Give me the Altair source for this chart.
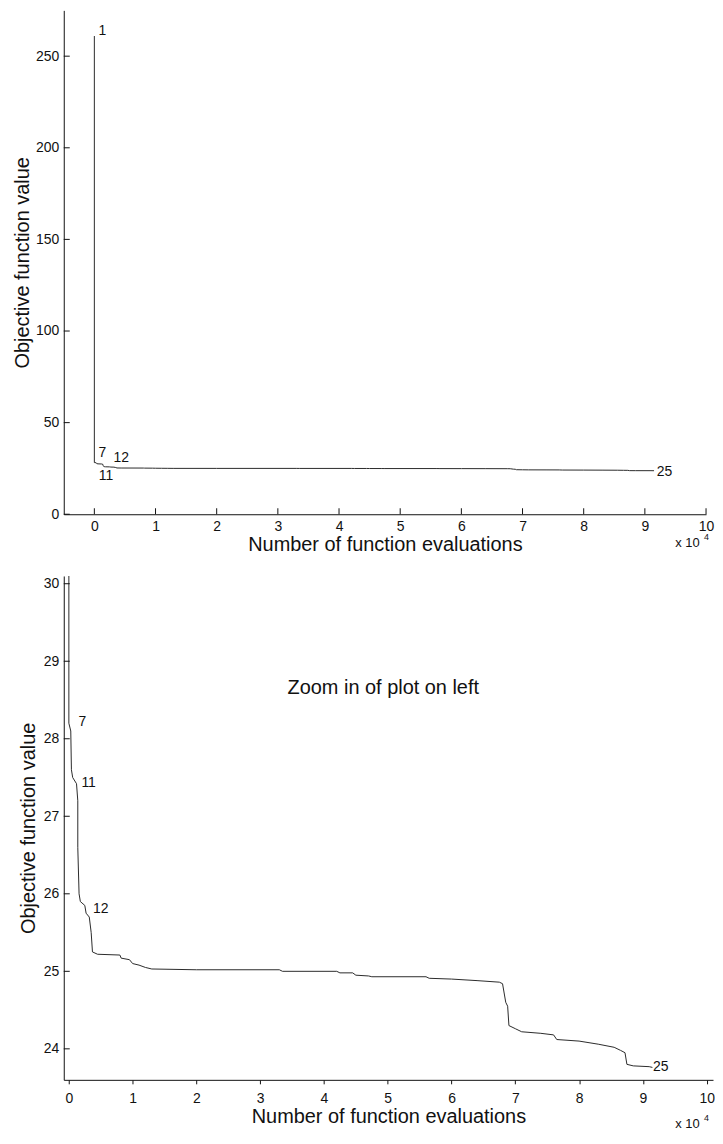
import altair as alt
import pandas as pd

# ---- data (x in units of 10^4 function evaluations) ----
evals = [0.00, 0.00, 0.03, 0.04, 0.06, 0.12, 0.14, 0.14, 0.16, 0.18, 0.25, 0.27,
         0.32, 0.35, 0.37, 0.45, 0.80, 0.82, 0.95, 1.00, 1.10, 1.20, 1.30, 2.00,
         3.30, 3.35, 4.20, 4.25, 4.45, 4.50, 4.70, 4.75, 5.60, 5.65, 6.00, 6.40,
         6.75, 6.80, 6.85, 6.88, 6.90, 7.00, 7.10, 7.40, 7.60, 7.65, 8.00, 8.30,
         8.55, 8.65, 8.72, 8.75, 8.85, 9.10, 9.15]
objective = [261.0, 28.20, 28.10, 27.60, 27.50, 27.42, 27.20, 26.60, 26.00, 25.90, 25.85, 25.75,
             25.70, 25.50, 25.25, 25.22, 25.21, 25.17, 25.15, 25.10, 25.08, 25.05, 25.03, 25.02,
             25.02, 25.00, 25.00, 24.98, 24.98, 24.95, 24.94, 24.93, 24.93, 24.91, 24.90, 24.88,
             24.86, 24.84, 24.60, 24.55, 24.30, 24.26, 24.22, 24.20, 24.18, 24.12, 24.10, 24.06,
             24.02, 23.98, 23.95, 23.80, 23.78, 23.77, 23.76]

top_label_text = ["1", "7", "12", "11", "25"]
top_label_x = [0.13, 0.13, 0.44, 0.19, 9.32]
top_label_y = [264.0, 33.2, 30.5, 20.9, 23.0]

bot_label_text = ["7", "11", "12", "25"]
bot_label_x = [0.21, 0.31, 0.50, 9.28]
bot_label_y = [28.21, 27.43, 25.80, 23.77]

note_text = ["Zoom in of plot on left"]
note_x = [4.93]
note_y = [28.65]

top_xticks = [0, 1, 2, 3, 4, 5, 6, 7, 8, 9, 10]
top_yticks = [0, 50, 100, 150, 200, 250]
bot_xticks = [0, 1, 2, 3, 4, 5, 6, 7, 8, 9, 10]
bot_yticks = [24, 25, 26, 27, 28, 29, 30]

FONT = "Liberation Sans"
INK = "#111111"
LINE = "#2a2a2a"

series = pd.DataFrame({"x": evals, "y": objective})


def make_panel(width, height, xdom, ydom, xticks, yticks, lab_t, lab_x, lab_y,
               x_inward, ytitle_pad, exp_pos, extra=None):
    xaxis = alt.Axis(values=xticks, title="Number of function evaluations",
                     grid=False, ticks=not x_inward, tickSize=0 if x_inward else 4,
                     tickColor=INK, labelPadding=5 if x_inward else 8,
                     labelFontSize=14, labelColor=INK, labelFont=FONT,
                     titleFontSize=20, titleFontWeight="normal", titleColor=INK,
                     titleFont=FONT, titlePadding=1, domainColor=INK, labelFlush=False)
    yaxis = alt.Axis(values=yticks, title="Objective function value", grid=False,
                     ticks=False, tickSize=0, labelPadding=5, labelFontSize=14,
                     labelColor=INK, labelFont=FONT, titleFontSize=20,
                     titleFontWeight="normal", titleColor=INK, titleFont=FONT,
                     titlePadding=ytitle_pad, domainColor=INK, labelFlush=False)
    X = alt.X("x:Q", scale=alt.Scale(domain=xdom, nice=False, zero=False), axis=xaxis)
    Y = alt.Y("y:Q", scale=alt.Scale(domain=ydom, nice=False, zero=False), axis=yaxis)

    line = alt.Chart(series).mark_line(color=LINE, strokeWidth=1, clip=True).encode(x=X, y=Y)

    labels = alt.Chart(pd.DataFrame({"x": lab_x, "y": lab_y, "t": lab_t})).mark_text(
        fontSize=14, font=FONT, color=INK, align="center", baseline="middle"
    ).encode(x=X, y=Y, text="t:N")

    yt = alt.Chart(pd.DataFrame({"y": yticks})).mark_rule(color=INK, strokeWidth=1).encode(
        y=Y, x=alt.value(0), x2=alt.value(6))

    layers = [line, labels, yt]
    if x_inward:
        xt = alt.Chart(pd.DataFrame({"x": xticks})).mark_rule(color=INK, strokeWidth=1).encode(
            x=X, y=alt.value(height), y2=alt.value(height - 6))
        layers.append(xt)
    if extra is not None:
        layers.append(extra(X, Y))

    ex, ey = exp_pos
    exp_main = alt.Chart(pd.DataFrame({"t": ["x 10"]})).mark_text(
        fontSize=13, font=FONT, color=INK, align="left", baseline="middle"
    ).encode(x=alt.value(ex), y=alt.value(ey), text="t:N")
    exp_sup = alt.Chart(pd.DataFrame({"t": ["4"]})).mark_text(
        fontSize=9, font=FONT, color=INK, align="left", baseline="middle"
    ).encode(x=alt.value(ex + 29), y=alt.value(ey - 6), text="t:N")
    layers += [exp_main, exp_sup]

    return alt.layer(*layers).properties(width=width, height=height)


def note_layer(X, Y):
    return alt.Chart(pd.DataFrame({"x": note_x, "y": note_y, "t": note_text})).mark_text(
        fontSize=20, font=FONT, color=INK, align="center", baseline="middle"
    ).encode(x=X, y=Y, text="t:N")


top = make_panel(645, 506, [-0.5, 10], [0, 275], top_xticks, top_yticks,
                 top_label_text, top_label_x, top_label_y,
                 x_inward=True, ytitle_pad=3, exp_pos=(614, 506 + 29))

bottom = make_panel(652, 506, [-0.08, 10.1], [23.6, 30.1], bot_xticks, bot_yticks,
                    bot_label_text, bot_label_x, bot_label_y,
                    x_inward=False, ytitle_pad=5, exp_pos=(614, 506 + 44),
                    extra=note_layer)

chart = alt.concat(top, bottom, columns=1, spacing=22, align="none").properties(
    padding={"left": 4, "top": 0, "right": 0, "bottom": 0}
).configure(font=FONT).configure_view(strokeWidth=0)

chart.save("out.html", embed_options={"renderer": "svg", "actions": False})
